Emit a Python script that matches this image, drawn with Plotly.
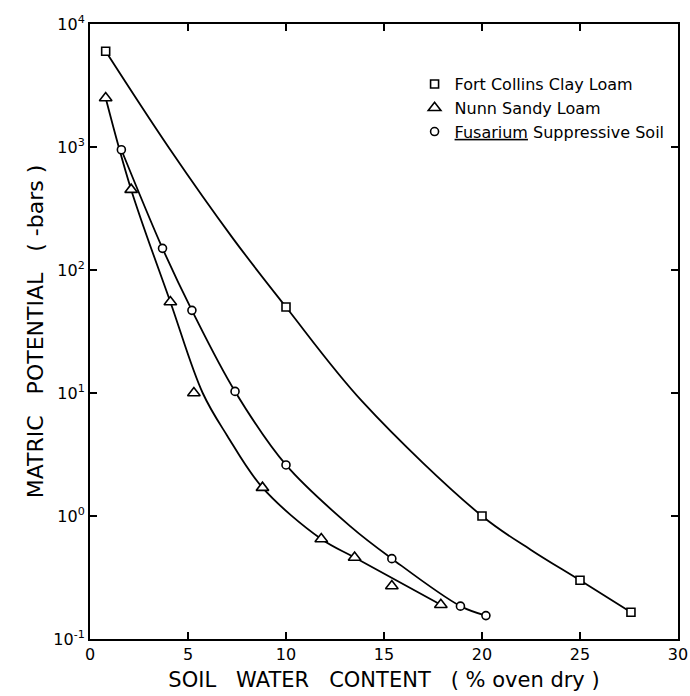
import plotly.graph_objects as go

# Fort Collins Clay Loam (squares)
fc_x = [0.8, 10.0, 20.0, 25.0, 27.6]
fc_y = [6000, 50, 1.0, 0.30, 0.165]
# Points
fc_curve_x = [0.8, 4.0, 7.3, 10.0, 13.9, 20.0, 22.5, 25.0, 27.6]
fc_curve_y = [6000, 1000, 180, 50, 8.5, 1.0, 0.53, 0.30, 0.165]

# Nunn Sandy Loam (triangles)
nunn_x = [0.8, 2.1, 4.1, 5.3, 8.8, 11.8, 13.5, 15.4, 17.9]
nunn_y = [2500, 450, 55, 10, 1.7, 0.65, 0.46, 0.27, 0.19]
# Points (outliers are off the curve)
nunn_curve_x = [0.8, 2.1, 4.1, 5.75, 7.0, 8.8, 11.8, 13.5, 17.9]
nunn_curve_y = [2500, 450, 55, 10, 4.5, 1.7, 0.65, 0.46, 0.19]

# Fusarium Suppressive Soil (circles)
fus_x = [1.6, 3.7, 5.2, 7.4, 10.0, 15.4, 18.9, 20.2]
fus_y = [950, 150, 47, 10.3, 2.6, 0.45, 0.185, 0.155]
# Points
fus_curve_x = [1.6, 3.7, 5.2, 7.4, 10.0, 13.3, 15.4, 18.9, 20.2]
fus_curve_y = [950, 150, 47, 10.3, 2.6, 0.82, 0.45, 0.185, 0.155]

y_tickvals = [0.1, 1, 10, 100, 1000, 10000]
y_ticktext = ["10<sup>-1</sup>", "10<sup>0</sup>", "10<sup>1</sup>",
              "10<sup>2</sup>", "10<sup>3</sup>", "10<sup>4</sup>"]
x_tickvals = [0, 5, 10, 15, 20, 25, 30]

FONT = "DejaVu Sans, Arial, sans-serif"
LINE = dict(color="black", width=1.8, shape="spline", smoothing=1.0)

fig = go.Figure()
for cx, cy in [(fc_curve_x, fc_curve_y), (nunn_curve_x, nunn_curve_y), (fus_curve_x, fus_curve_y)]:
    fig.add_trace(go.Scatter(x=cx, y=cy, mode="lines", line=LINE, showlegend=False, hoverinfo="skip"))

mk = lambda sym, sz: dict(symbol=sym, size=sz, color="white", line=dict(color="black", width=1.6))
fig.add_trace(go.Scatter(x=fc_x, y=fc_y, mode="markers", marker=mk("square", 8),
                         name="Fort Collins Clay Loam"))
fig.add_trace(go.Scatter(x=nunn_x, y=nunn_y, mode="markers", marker=mk("triangle-up", 11),
                         name="Nunn Sandy Loam"))
fig.add_trace(go.Scatter(x=fus_x, y=fus_y, mode="markers", marker=mk("circle", 8),
                         name="<u>Fusarium</u> Suppressive Soil"))

axis_common = dict(showline=True, linecolor="black", linewidth=2, mirror="ticks",
                   ticks="inside", ticklen=7, tickwidth=1.5, tickcolor="black",
                   showgrid=False, zeroline=False, automargin=False,
                   tickfont=dict(family=FONT, size=16, color="black"))

fig.update_xaxes(range=[0, 30], tickvals=x_tickvals, **axis_common,
                 title=dict(text="SOIL   WATER   CONTENT   ( % oven dry )",
                            font=dict(family=FONT, size=21, color="black"), standoff=9))
fig.update_yaxes(type="log", range=[-1, 4], tickvals=y_tickvals, ticktext=y_ticktext, **axis_common,
                 title=dict(text="MATRIC   POTENTIAL   ( -bars )",
                            font=dict(family=FONT, size=22, color="black"), standoff=4))

fig.update_layout(
    width=690, height=696,
    margin=dict(l=90, r=12, t=24, b=57, autoexpand=False),
    paper_bgcolor="white", plot_bgcolor="white",
    font=dict(family=FONT, color="black"),
    legend=dict(x=0.552, y=0.93, xanchor="left", yanchor="top",
                bgcolor="rgba(0,0,0,0)", font=dict(family=FONT, size=16, color="black"),
                tracegroupgap=0, itemwidth=30),
)

fig.write_html("out.html")
